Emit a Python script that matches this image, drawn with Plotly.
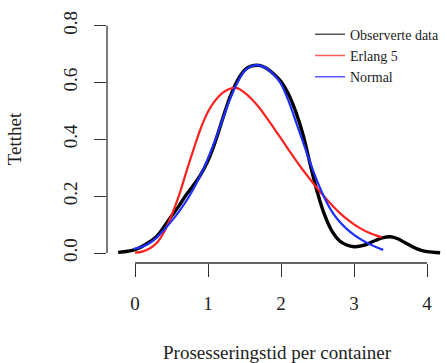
import plotly.graph_objects as go

# Observed density (kernel estimate)
obs_x = [-0.23, -0.1, 0.0, 0.15, 0.3, 0.4, 0.5, 0.6, 0.7, 0.8, 0.9, 1.0, 1.1, 1.2, 1.3, 1.4,
         1.5, 1.6, 1.7, 1.8, 1.9, 2.0, 2.1, 2.2, 2.3, 2.4, 2.5, 2.6, 2.7, 2.8, 2.9, 3.0,
         3.1, 3.2, 3.3, 3.4, 3.5, 3.6, 3.7, 3.8, 3.9, 4.0, 4.18]
obs_y = [0.002, 0.006, 0.012, 0.031, 0.059, 0.093, 0.130, 0.165, 0.204, 0.238, 0.276, 0.325,
         0.392, 0.472, 0.548, 0.605, 0.643, 0.658, 0.660, 0.650, 0.630, 0.603, 0.560, 0.498,
         0.418, 0.312, 0.212, 0.132, 0.076, 0.043, 0.028, 0.022, 0.025, 0.033, 0.045, 0.054,
         0.057, 0.050, 0.036, 0.022, 0.011, 0.005, 0.001]

# Erlang 5 fit
erl_x = [0.0, 0.1, 0.2, 0.3, 0.4, 0.5, 0.6, 0.7, 0.8, 0.9, 1.0, 1.1, 1.2, 1.3, 1.4, 1.5,
         1.6, 1.7, 1.8, 1.9, 2.0, 2.1, 2.2, 2.3, 2.4, 2.5, 2.6, 2.7, 2.8, 2.9, 3.0, 3.1,
         3.2, 3.3, 3.38]
erl_y = [0.001, 0.005, 0.016, 0.036, 0.075, 0.132, 0.200, 0.283, 0.363, 0.438, 0.497, 0.537,
         0.563, 0.578, 0.580, 0.564, 0.541, 0.512, 0.477, 0.440, 0.403, 0.365, 0.328, 0.292,
         0.259, 0.226, 0.196, 0.168, 0.142, 0.120, 0.101, 0.085, 0.072, 0.062, 0.055]

# Normal fit
nor_x = [-0.02, 0.1, 0.2, 0.3, 0.4, 0.5, 0.6, 0.7, 0.8, 0.9, 1.0, 1.1, 1.2, 1.3, 1.4, 1.5,
         1.6, 1.7, 1.8, 1.9, 2.0, 2.1, 2.2, 2.3, 2.4, 2.5, 2.6, 2.7, 2.8, 2.9, 3.0, 3.1,
         3.2, 3.3, 3.4]
nor_y = [0.014, 0.022, 0.035, 0.055, 0.082, 0.112, 0.145, 0.182, 0.225, 0.275, 0.333, 0.398,
         0.470, 0.540, 0.598, 0.640, 0.658, 0.660, 0.650, 0.628, 0.595, 0.537, 0.465, 0.392,
         0.318, 0.250, 0.192, 0.145, 0.111, 0.085, 0.064, 0.047, 0.033, 0.021, 0.011]

series_names = ["Observerte data", "Erlang 5", "Normal"]
x_ticks = [0, 1, 2, 3, 4]
y_ticks = [0.0, 0.2, 0.4, 0.6, 0.8]
y_tick_text = ["0.0", "0.2", "0.4", "0.6", "0.8"]

FONT = "Liberation Serif"
line_colors = ["black", "#ff2020", "#1f2fff"]
line_widths = [3.4, 2.2, 2.2]
legend_colors = ["#555555", "#ff5a5a", "#5a5aff"]

fig = go.Figure()
for xs, ys, col, w in zip([obs_x, erl_x, nor_x], [obs_y, erl_y, nor_y], line_colors, line_widths):
    fig.add_trace(go.Scatter(x=xs, y=ys, mode="lines", showlegend=False, hoverinfo="skip",
                             line=dict(color=col, width=w, shape="spline", smoothing=1.0)))
# legend entries with thin sample lines, as in the original
for name, col in zip(series_names, legend_colors):
    fig.add_trace(go.Scatter(x=[None], y=[None], mode="lines", name=name,
                             line=dict(color=col, width=1.6)))

# R-style detached axis lines spanning first to last tick
fig.add_shape(type="line", xref="x", yref="paper", x0=x_ticks[0], x1=x_ticks[-1], y0=0, y1=0,
              line=dict(color="#333333", width=1.3))
fig.add_shape(type="line", xref="paper", yref="y", x0=0, x1=0, y0=y_ticks[0], y1=y_ticks[-1],
              line=dict(color="#333333", width=1.3))

fig.update_layout(
    width=447, height=363,
    margin=dict(l=107, r=0, t=15, b=100),
    plot_bgcolor="white", paper_bgcolor="white",
    font=dict(family=FONT, size=19, color="#222222"),
    showlegend=True,
    legend=dict(x=0.597, y=0.985, xanchor="left", yanchor="top",
                font=dict(family=FONT, size=14, color="#222222"),
                bgcolor="rgba(0,0,0,0)", tracegroupgap=0, itemwidth=30),
    xaxis=dict(range=[-0.3836, 4.274], tickvals=x_ticks, ticks="outside", ticklen=13,
               tickcolor="#333333", tickwidth=1.3, showgrid=False, zeroline=False,
               showline=False, ticklabelstandoff=10,
               title=dict(text="Prosesseringstid per container", standoff=34,
                          font=dict(family=FONT, size=19))),
    yaxis=dict(range=[-0.0352, 0.8374], tickvals=y_ticks, ticktext=y_tick_text,
               ticks="outside", ticklen=12, tickcolor="#333333", tickwidth=1.3,
               tickangle=-90, showgrid=False, zeroline=False, showline=False,
               ticklabelstandoff=9,
               title=dict(text="Tetthet", standoff=33, font=dict(family=FONT, size=19))),
)

fig.write_html("out.html")
